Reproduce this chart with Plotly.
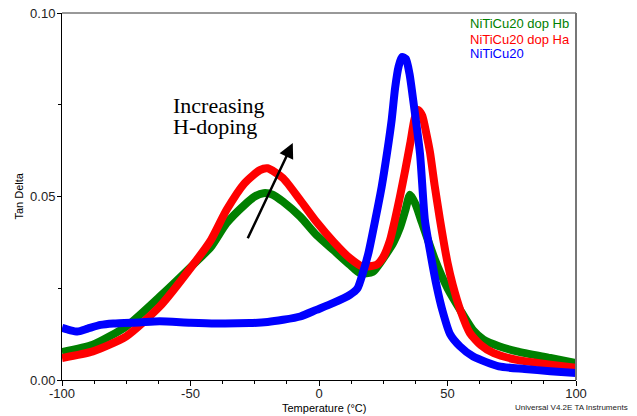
import plotly.graph_objects as go

# ---- data ----
green_T = [-100, -88, -75, -62, -49, -42, -36, -29, -25, -21.6, -18, -14, -7.3, -1, 5.6, 12, 16, 21,
           26.3, 29, 31.5, 33.5, 35.4, 37.5, 40, 45, 50, 55, 60, 64, 70, 77, 90, 100]
green = [0.0076, 0.0096, 0.0146, 0.0227, 0.0314, 0.0363, 0.0427, 0.0477, 0.0500, 0.0509, 0.0505,
         0.0486, 0.0445, 0.0395, 0.0354, 0.0314, 0.0291, 0.0295, 0.0345, 0.0375, 0.0415, 0.046,
         0.0505, 0.048, 0.043, 0.033, 0.025, 0.019, 0.0135, 0.011, 0.0092, 0.0078, 0.006, 0.0046]

red_T = [-100, -88, -75, -62, -49, -42, -36, -29, -23, -20, -14, -7.3, -1, 5.6, 12, 17, 22.4, 25,
         27.6, 29.5, 31.5, 33.5, 35.5, 37.2, 38.6, 40.2, 41.8, 43.2, 45, 47, 50, 52, 55, 58.7, 63,
         68, 77, 90, 100]
red = [0.006, 0.0078, 0.0119, 0.020, 0.0314, 0.0382, 0.0463, 0.0536, 0.0572, 0.0577, 0.055, 0.049,
       0.0431, 0.0377, 0.0332, 0.0309, 0.0314, 0.0335, 0.038, 0.0435, 0.050, 0.057, 0.0645, 0.0712,
       0.0736, 0.072, 0.067, 0.062, 0.053, 0.044, 0.032, 0.026, 0.019, 0.0128, 0.0095, 0.0073,
       0.0055, 0.0042, 0.0033]

blue_T = [-100, -97, -94, -90, -85, -80, -70, -62, -50, -40, -27, -20, -14, -7.3, -1, 5.6, 12, 15,
          17, 19.2, 22, 24.4, 26.5, 28.3, 29.6, 31, 32.3, 33.8, 35.2, 36.7, 39.3, 41.2, 43.5, 45.8,
          48, 51, 54.8, 60, 70, 80, 90, 100]
blue = [0.0142, 0.0136, 0.0132, 0.0140, 0.0150, 0.0154, 0.0157, 0.0160, 0.0156, 0.0154, 0.0155,
        0.0158, 0.0164, 0.0173, 0.0191, 0.021, 0.0232, 0.0250, 0.029, 0.0345, 0.044, 0.0527, 0.062,
        0.071, 0.0795, 0.0855, 0.0880, 0.0875, 0.0835, 0.076, 0.0617, 0.0436, 0.034, 0.0255, 0.019,
        0.0125, 0.0092, 0.0064, 0.0037, 0.003, 0.0024, 0.0019]

series_names = ["NiTiCu20 dop Hb", "NiTiCu20 dop Ha", "NiTiCu20"]
series_colors = ["#008000", "#FF0000", "#0000FF"]

x_ticks = [-100, -50, 0, 50, 100]
x_ticklabels = ["-100", "-50", "0", "50", "100"]
y_ticks = [0.0, 0.05, 0.10]
y_ticklabels = ["0.00", "0.05", "0.10"]

fig = go.Figure()
for T, v, name, col in zip([green_T, red_T, blue_T], [green, red, blue], series_names, series_colors):
    fig.add_trace(go.Scatter(x=T, y=v, mode="lines", name=name, showlegend=False,
                             line=dict(color=col, width=8, shape="spline", smoothing=0.6)))

font_sans = "Arial, Liberation Sans, sans-serif"
font_serif = "Times New Roman, Liberation Serif, serif"

annotations = []
legend_y = [0.0971, 0.0928, 0.0890]
for name, col, yy in zip(series_names, series_colors, legend_y):
    annotations.append(dict(x=58.0, y=yy, xref="x", yref="y", text=name, showarrow=False,
                            xanchor="left", yanchor="middle",
                            font=dict(family=font_sans, size=13, color=col)))

annotations += [
    dict(x=-57.4, y=0.0748, xref="x", yref="y", text="Increasing", showarrow=False,
         xanchor="left", yanchor="middle", font=dict(family=font_serif, size=22, color="black")),
    dict(x=-57.4, y=0.0690, xref="x", yref="y", text="H-doping", showarrow=False,
         xanchor="left", yanchor="middle", font=dict(family=font_serif, size=22, color="black")),
    dict(x=-10.2, y=0.0646, ax=-28.0, ay=0.0382, xref="x", yref="y", axref="x", ayref="y",
         text="", showarrow=True, arrowhead=2, arrowsize=1.2, arrowwidth=2.5, arrowcolor="black"),
    dict(x=324, y=408, xref="paper", yref="paper", text="Temperature (°C)", showarrow=False,
         xanchor="center", yanchor="middle",
         font=dict(family=font_sans, size=11, color="black")),
    dict(x=18, y=196, xref="paper", yref="paper", text="Tan Delta", showarrow=False, textangle=-90,
         xanchor="center", yanchor="middle",
         font=dict(family=font_sans, size=11, color="black")),
    dict(x=630.5, y=407.5, xref="paper", yref="paper", text="Universal V4.2E TA Instruments",
         showarrow=False, xanchor="right", yanchor="middle",
         font=dict(family=font_sans, size=8, color="#222222")),
]

# page body has an 8px margin: lay the figure out in screen pixels, minus that offset
OFF = 8
W, H = 637 - OFF, 416 - OFF
plot_left, plot_right, plot_top, plot_bottom = 61.5, 576, 12.7, 380.3  # screen px
L = plot_left - OFF
R = W - (plot_right - OFF)
T_ = plot_top - OFF
B = H - (plot_bottom - OFF)
pw, ph = W - L - R, H - T_ - B
for a in annotations:
    if a.get("xref") == "paper":
        a["x"] = (a["x"] - OFF - L) / pw
        a["y"] = (H - B - (a["y"] - OFF)) / ph

fig.update_layout(
    width=W, height=H,
    margin=dict(l=L, r=R, t=T_, b=B, autoexpand=False),
    plot_bgcolor="white", paper_bgcolor="white",
    font=dict(family=font_sans, size=13, color="#222222"),
    annotations=annotations,
    shapes=[
        dict(type="line", xref="paper", yref="paper", x0=0, x1=1, y0=1, y1=1,
             line=dict(color="#333333", width=1)),
        dict(type="line", xref="paper", yref="paper", x0=1, x1=1, y0=0, y1=1,
             line=dict(color="#777777", width=2)),
    ],
)
fig.update_xaxes(range=[-100, 100], tickvals=x_ticks, ticktext=x_ticklabels, showgrid=False,
                 zeroline=False, showline=True, linecolor="black", linewidth=1,
                 ticks="outside", ticklen=5, tickcolor="black", ticklabelstandoff=-4,
                 ticklabeloverflow="allow",
                 minor=dict(tick0=-100, dtick=12.5, ticks="outside", ticklen=3, tickcolor="black"),
                 tickfont=dict(size=13, color="#222222"))
fig.update_yaxes(range=[0, 0.10], tickvals=y_ticks, ticktext=y_ticklabels, showgrid=False,
                 zeroline=False, showline=True, linecolor="black", linewidth=1,
                 ticks="outside", ticklen=4, tickcolor="black", ticklabelstandoff=-1,
                 ticklabeloverflow="allow",
                 minor=dict(tick0=0, dtick=0.025, ticks="outside", ticklen=3, tickcolor="black"),
                 tickfont=dict(size=13, color="#222222"))

fig.write_html("out.html")
